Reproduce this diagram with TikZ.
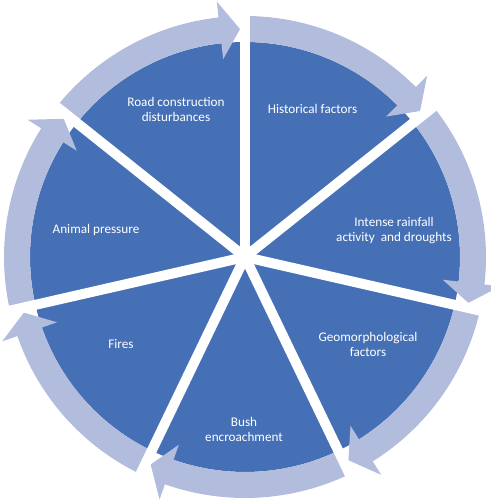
\documentclass[tikz,border=0pt]{standalone}
\usepackage{fontspec}
\setmainfont{Carlito}
\definecolor{darkb}{RGB}{70,112,182}
\definecolor{lightb}{RGB}{178,189,222}
\begin{document}
\begin{tikzpicture}[x=1pt,y=1pt,
  lbl/.style={text=white,font=\fontsize{13.2}{15}\selectfont,align=center,inner sep=0pt}]
\useasboundingbox (0,0) rectangle (490,500);
\coordinate (c) at (245,243);
\def\rin{215}\def\rout{241}\def\rmid{228}
\foreach \k in {0,...,6}{
  \pgfmathsetmacro{\s}{90-51.4286*\k}
  \pgfmathsetmacro{\e}{90-51.4286*(\k+1)}
  \pgfmathsetmacro{\t}{\e+1.26}
  \pgfmathsetmacro{\b}{\e+6.3}
  \fill[darkb] (c) -- ([shift={(\s:\rin)}]c) arc[start angle=\s,end angle=\e,radius=\rin] -- cycle;
  \fill[lightb] ([shift={(\s:\rout)}]c) arc[start angle=\s,end angle=\b,radius=\rout]
     -- ([shift={(\b:257)}]c) -- ([shift={(\t:\rmid)}]c) -- ([shift={(\b:199)}]c)
     -- ([shift={(\b:\rin)}]c) arc[start angle=\b,end angle=\s,radius=\rin] -- cycle;
}
\foreach \k in {0,...,6}{
  \pgfmathsetmacro{\s}{90-51.4286*\k}
  \draw[white,line width=10pt] (c) -- ([shift={(\s:262)}]c);
}
\node[lbl] (road) at (176,390.5) {Road construction\\disturbances};
\node[lbl] (hist) at (312.5,391) {Historical factors};
\node[lbl] (rain) at (394,269.5) {Intense rainfall\\activity\ \ and droughts};
\node[lbl] (geo) at (368,155.5) {Geomorphological\\factors};
\node[lbl] (bush) at (244,70.5) {Bush\\encroachment};
\node[lbl] (fire) at (121,156) {Fires};
\node[lbl] (anim) at (96,270) {Animal pressure};
\end{tikzpicture}
\end{document}
